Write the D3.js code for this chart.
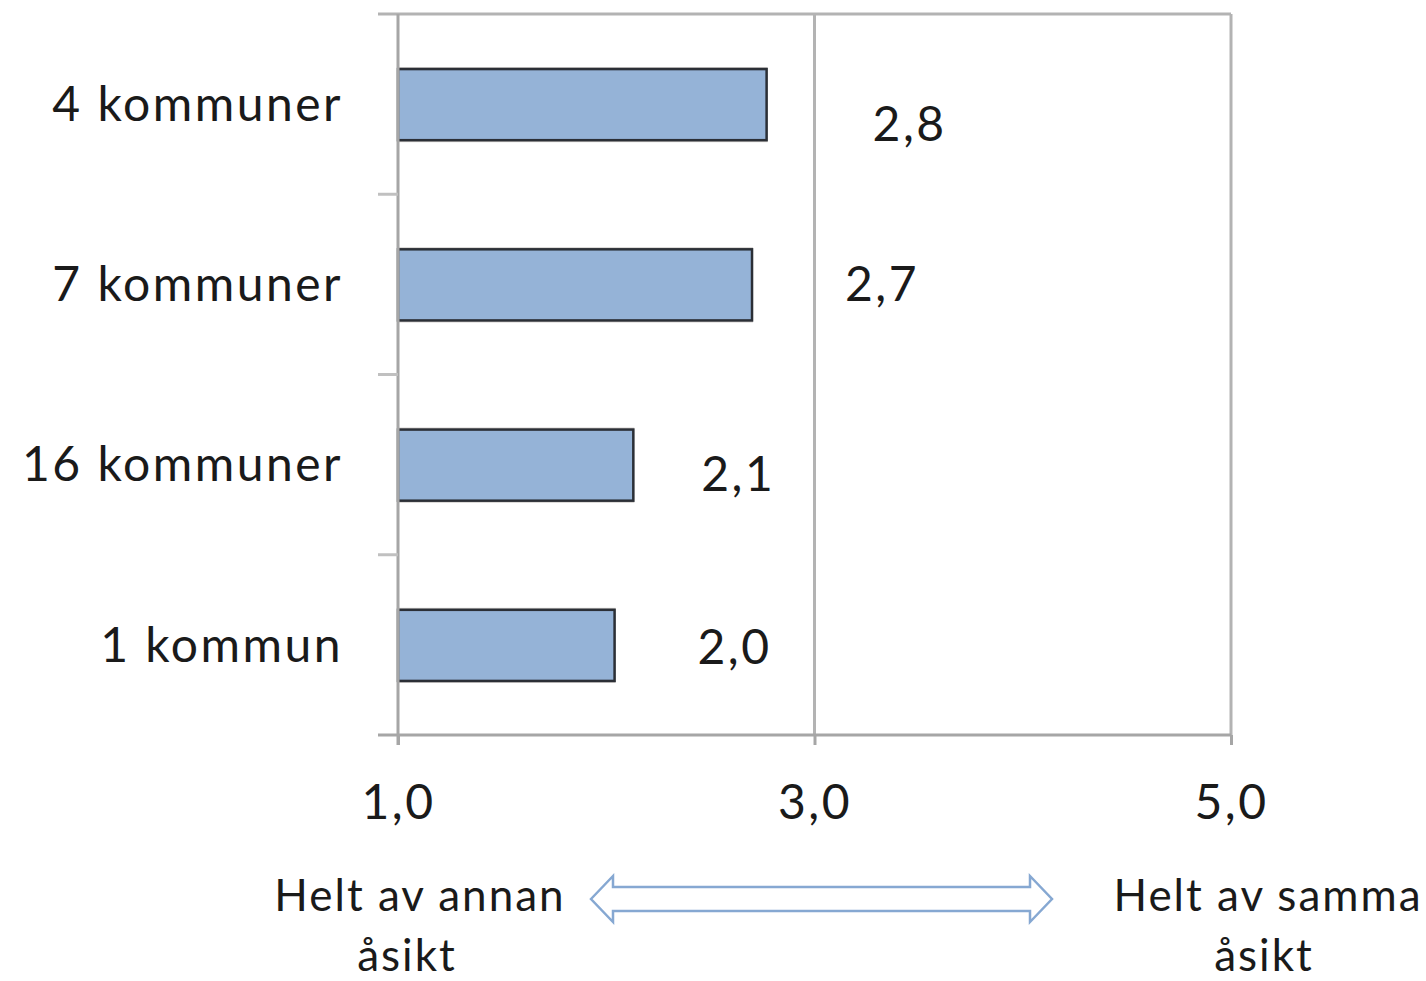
<!DOCTYPE html>
<html lang="sv">
<head>
<meta charset="utf-8">
<style>
  html, body { margin: 0; padding: 0; background: #fff; overflow: hidden; }
  text { font-family: Lato, "Open Sans", sans-serif; fill: #1a1a1a; }
</style>
<title>kommuner</title>
</head>
<body>
<div id="chart"></div>
<script src="https://d3js.org/d3.v7.min.js"></script>
<script>
// data
const categories = ["4 kommuner", "7 kommuner", "16 kommuner", "1 kommun"];
const values = [2.77, 2.70, 2.13, 2.04];
const xTicks = [1, 3, 5];
const leftNote = ["Helt av annan", "åsikt"];
const rightNote = ["Helt av samma", "åsikt"];

// hand-placed data label nudges (dx, dy) like in the original
const labelNudge = [[143, 20], [130, 0], [105, 10], [120, 2]];

const W = 1426, H = 981;
const pLeft = 398, pRight = 1231, pTop = 14, pBottom = 735;
const fs = 48, ls = "2.5px";

const svg = d3.select("#chart").append("svg")
  .attr("width", W).attr("height", H);

const x = d3.scaleLinear().domain([1, 5]).range([pLeft, pRight]);
const y = d3.scaleBand().domain(categories).range([pTop, pBottom]).paddingInner(0.6).paddingOuter(0.3);
const yb = d3.scaleBand().domain(categories).range([pTop, pBottom]);

const fmt = v => d3.format(".1f")(v).replace(".", ",");

// frame and gridlines
const grid = "#b3b3b3";
svg.append("line").attr("x1", pLeft - 20).attr("x2", pRight).attr("y1", pTop).attr("y2", pTop)
  .attr("stroke", grid).attr("stroke-width", 3);
svg.selectAll("line.vgrid").data(xTicks.slice(1)).join("line")
  .attr("class", "vgrid")
  .attr("x1", d => x(d)).attr("x2", d => x(d))
  .attr("y1", pTop).attr("y2", pBottom)
  .attr("stroke", grid).attr("stroke-width", 3);

// bars
const barG = svg.append("g");
barG.selectAll("rect.shadow").data(values).join("rect")
  .attr("class", "shadow")
  .attr("x", x(1)).attr("y", (d, i) => y(categories[i]) - 1)
  .attr("width", d => x(d) - x(1) + 1).attr("height", y.bandwidth() + 3)
  .attr("fill", "#cdcac7");
barG.selectAll("rect.bar").data(values).join("rect")
  .attr("class", "bar")
  .attr("x", x(1)).attr("y", (d, i) => y(categories[i]) + 1)
  .attr("width", d => x(d) - x(1)).attr("height", y.bandwidth() - 1)
  .attr("fill", "#95b3d7").attr("stroke", "#2b2f36").attr("stroke-width", 2.5);

// y axis
svg.append("line").attr("x1", pLeft).attr("x2", pLeft).attr("y1", pTop).attr("y2", pBottom + 10)
  .attr("stroke", "#a6a6a6").attr("stroke-width", 3);
svg.selectAll("line.ytick").data(categories.slice(1)).join("line")
  .attr("class", "ytick")
  .attr("x1", pLeft - 20).attr("x2", pLeft)
  .attr("y1", d => yb(d)).attr("y2", d => yb(d))
  .attr("stroke", "#c0c0c0").attr("stroke-width", 3);
svg.selectAll("text.cat").data(categories).join("text")
  .attr("class", "cat")
  .attr("x", pLeft - 55)
  .attr("y", d => yb(d) + yb.bandwidth() / 2)
  .attr("dy", "0.35em")
  .attr("text-anchor", "end")
  .attr("font-size", fs)
  .style("letter-spacing", ls)
  .text(d => d);

// x axis
const xAxis = d3.axisBottom(x).tickValues(xTicks).tickSize(10).tickPadding(40).tickFormat(fmt);
const xa = svg.append("g").attr("transform", `translate(0,${pBottom})`).call(xAxis);
xa.select(".domain").attr("d", `M${pLeft - 20},0H${pRight}`).attr("stroke", "#a6a6a6").attr("stroke-width", 3);
xa.selectAll(".tick line").attr("stroke", "#a6a6a6").attr("stroke-width", 3);
xa.selectAll(".tick text").attr("font-size", fs).attr("fill", "#1a1a1a")
  .style("font-family", "Lato, 'Open Sans', sans-serif")
  .style("letter-spacing", ls);

// value labels
svg.selectAll("text.val").data(values).join("text")
  .attr("class", "val")
  .attr("x", (d, i) => x(d) + labelNudge[i][0])
  .attr("y", (d, i) => y(categories[i]) + y.bandwidth() / 2 + labelNudge[i][1])
  .attr("dy", "0.35em")
  .attr("text-anchor", "middle")
  .attr("font-size", fs)
  .style("letter-spacing", ls)
  .text(d => fmt(d));

// notes under axis
function note(lines, cx, cx2) {
  const t = svg.append("text").attr("y", 911).attr("text-anchor", "middle")
    .attr("font-size", 44).style("letter-spacing", "2px");
  t.append("tspan").attr("x", cx).text(lines[0]);
  t.append("tspan").attr("x", cx2).attr("dy", 60).text(lines[1]);
}
note(leftNote, 420, 407);
note(rightNote, 1268, 1264);

// double arrow
const ax0 = 591, ax1 = 1052, ay = 899, headW = 22, headH = 23, shaftH = 12;
const arrow = [
  [ax0, ay], [ax0 + headW, ay - headH], [ax0 + headW, ay - shaftH],
  [ax1 - headW, ay - shaftH], [ax1 - headW, ay - headH], [ax1, ay],
  [ax1 - headW, ay + headH], [ax1 - headW, ay + shaftH],
  [ax0 + headW, ay + shaftH], [ax0 + headW, ay + headH]
];
svg.append("path").attr("d", d3.line()(arrow) + "Z")
  .attr("fill", "#fff").attr("stroke", "#86a8d2").attr("stroke-width", 2.5);
</script>
</body>
</html>
